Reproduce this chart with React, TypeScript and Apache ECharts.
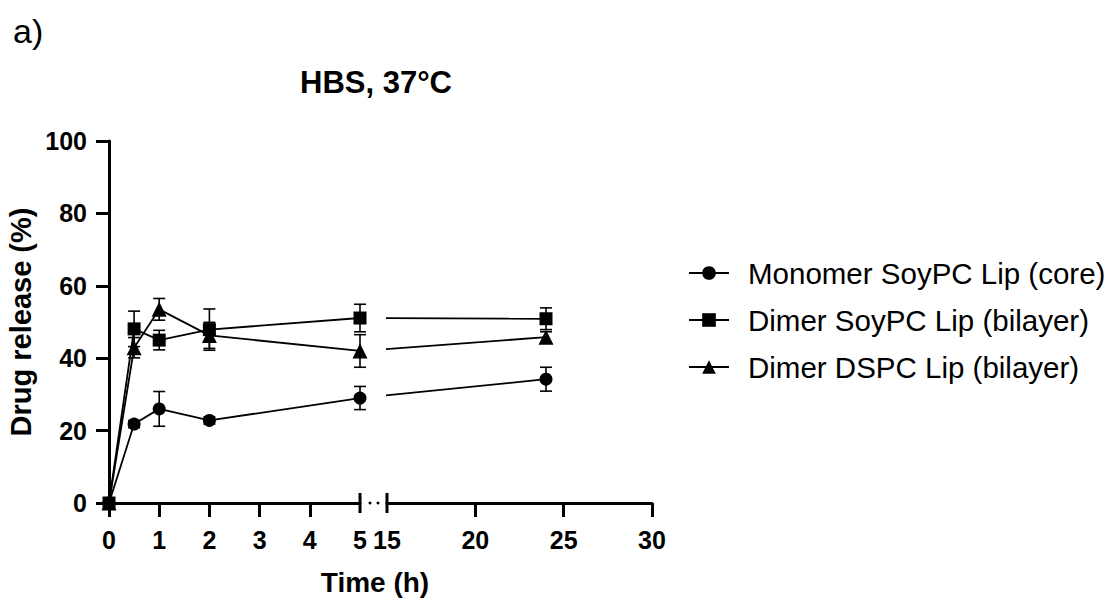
import React, { useEffect, useRef } from "react";
import * as echarts from "echarts";

const FONT = '"Liberation Sans", Arial, Helvetica, sans-serif';

const seriesNames = [
  "Monomer SoyPC Lip (core)",
  "Dimer SoyPC Lip (bilayer)",
  "Dimer DSPC Lip (bilayer)",
];
const seriesSymbols = ["circle", "rect", "triangle"];
const seriesSymbolSizes = [13, 13, 15];

// time points (h)
const earlyTimes = [0, 0.5, 1, 2, 5];
const lateTime = 24;

// Monomer SoyPC Lip (core)
const monomerEarly = [0, 21.8, 26.0, 22.8, 29.0];
const monomerEarlyErr = [0, 1.0, 4.8, 1.0, 3.2];
const monomerLate = 34.2;
const monomerLateErr = 3.3;

// Dimer SoyPC Lip (bilayer)
const dimerSoyEarly = [0, 48.1, 45.0, 47.9, 51.1];
const dimerSoyEarlyErr = [0, 4.9, 2.7, 5.7, 3.8];
const dimerSoyLate = 50.9;
const dimerSoyLateErr = 3.0;

// Dimer DSPC Lip (bilayer)
const dimerDspcEarly = [0, 42.9, 53.5, 46.3, 42.0];
const dimerDspcEarlyErr = [0, 2.8, 3.0, 3.6, 4.5];
const dimerDspcLate = 45.8;
const dimerDspcLateErr = 1.5;

const earlyValues = [monomerEarly, dimerSoyEarly, dimerDspcEarly];
const earlyErrors = [monomerEarlyErr, dimerSoyEarlyErr, dimerDspcEarlyErr];
const lateValues = [monomerLate, dimerSoyLate, dimerDspcLate];
const lateErrors = [monomerLateErr, dimerSoyLateErr, dimerDspcLateErr];

// axis ticks
const leftTicks = [0, 1, 2, 3, 4, 5];
const leftTickMarks = [0, 1, 2, 3, 4];
const rightTicks = [15, 20, 25, 30];
const rightTickMarks = [20, 25, 30];
const yMin = 0;
const yMax = 100;
const yStep = 20;

// layout (pixels)
const G1_LEFT = 109;
const G1_RIGHT = 360;
const G2_LEFT = 387;
const G2_RIGHT = 652;
const G_TOP = 141;
const G_BOTTOM = 503;

const AXIS_W = 3;

export default function App() {
  const ref = useRef<HTMLDivElement>(null);

  useEffect(() => {
    if (!ref.current) return;
    const chart = echarts.init(ref.current, undefined, { renderer: "svg" });

    const leftMin = leftTicks[0];
    const leftMax = leftTicks[leftTicks.length - 1];
    const rightMin = rightTicks[0];
    const rightMax = rightTicks[rightTicks.length - 1];
    const g1W = G1_RIGHT - G1_LEFT;
    const g2W = G2_RIGHT - G2_LEFT;
    const gH = G_BOTTOM - G_TOP;
    // position of the last early point expressed in the right panel's scale,
    // so the connecting segment is straight in pixel space and clipped at the break
    const lastEarlyInRight =
      rightMin - (G2_LEFT - G1_RIGHT) * ((rightMax - rightMin) / g2W);

    const errRender = (params: any, api: any) => {
      const x = api.value(0);
      const m = api.value(1);
      const e = api.value(2);
      const top = api.coord([x, m + e]);
      const bot = api.coord([x, m - e]);
      const cw = 6;
      const st = { stroke: "#000", lineWidth: 1.6 };
      return {
        type: "group",
        children: [
          { type: "line", shape: { x1: top[0], y1: top[1], x2: bot[0], y2: bot[1] }, style: st },
          { type: "line", shape: { x1: top[0] - cw, y1: top[1], x2: top[0] + cw, y2: top[1] }, style: st },
          { type: "line", shape: { x1: bot[0] - cw, y1: bot[1], x2: bot[0] + cw, y2: bot[1] }, style: st },
        ],
      };
    };

    const series: any[] = [];
    seriesNames.forEach((name, i) => {
      series.push({
        type: "custom",
        name: name + " err",
        xAxisIndex: 0,
        yAxisIndex: 0,
        renderItem: errRender,
        data: earlyTimes.map((t, k) => [t, earlyValues[i][k], earlyErrors[i][k]]),
        z: 1,
        silent: true,
      });
      series.push({
        type: "custom",
        name: name + " err2",
        xAxisIndex: 1,
        yAxisIndex: 1,
        renderItem: errRender,
        data: [[lateTime, lateValues[i], lateErrors[i]]],
        z: 1,
        silent: true,
      });
      series.push({
        type: "line",
        name,
        xAxisIndex: 0,
        yAxisIndex: 0,
        data: earlyTimes.map((t, k) => [t, earlyValues[i][k]]),
        symbol: seriesSymbols[i],
        symbolSize: seriesSymbolSizes[i],
        showAllSymbol: true,
        clip: false,
        itemStyle: { color: "#000" },
        lineStyle: { color: "#000", width: 1.8 },
        z: 3,
      });
      series.push({
        type: "line",
        name,
        xAxisIndex: 1,
        yAxisIndex: 1,
        data: [
          { value: [lastEarlyInRight, earlyValues[i][earlyValues[i].length - 1]], symbol: "none" },
          { value: [lateTime, lateValues[i]] },
        ],
        symbol: seriesSymbols[i],
        symbolSize: seriesSymbolSizes[i],
        showAllSymbol: true,
        clip: true,
        itemStyle: { color: "#000" },
        lineStyle: { color: "#000", width: 1.8 },
        z: 3,
      });
    });

    const axisLabel = {
      color: "#000",
      fontSize: 25,
      fontWeight: "bold",
      fontFamily: FONT,
    };

    const option: any = {
      animation: false,
      grid: [
        { left: G1_LEFT, top: G_TOP, width: g1W, height: gH, outerBoundsMode: "none", containLabel: false },
        { left: G2_LEFT, top: G_TOP, width: g2W, height: gH, outerBoundsMode: "none", containLabel: false },
      ],
      xAxis: [
        {
          gridIndex: 0,
          type: "value",
          min: leftMin,
          max: leftMax,
          interval: 1,
          axisLine: { show: true, lineStyle: { color: "#000", width: AXIS_W } },
          axisTick: { show: true, length: 14, lineStyle: { color: "#000", width: AXIS_W }, customValues: leftTickMarks },
          axisLabel: { ...axisLabel, margin: 24, customValues: leftTicks },
          splitLine: { show: false },
        },
        {
          gridIndex: 1,
          type: "value",
          min: rightMin,
          max: rightMax,
          interval: 5,
          axisLine: { show: true, lineStyle: { color: "#000", width: AXIS_W } },
          axisTick: { show: true, length: 14, lineStyle: { color: "#000", width: AXIS_W }, customValues: rightTickMarks },
          axisLabel: { ...axisLabel, margin: 24, customValues: rightTicks },
          splitLine: { show: false },
        },
      ],
      yAxis: [
        {
          gridIndex: 0,
          type: "value",
          min: yMin,
          max: yMax,
          interval: yStep,
          name: "Drug release (%)",
          nameLocation: "middle",
          nameGap: 74,
          nameMoveOverlap: false,
          nameTextStyle: { color: "#000", fontSize: 29, fontWeight: "bold", fontFamily: FONT },
          axisLine: { show: true, lineStyle: { color: "#000", width: AXIS_W } },
          axisTick: { show: true, length: 13, lineStyle: { color: "#000", width: AXIS_W } },
          axisLabel: { ...axisLabel, margin: 22 },
          splitLine: { show: false },
        },
        {
          gridIndex: 1,
          type: "value",
          min: yMin,
          max: yMax,
          interval: yStep,
          show: false,
          splitLine: { show: false },
        },
      ],
      legend: {
        orient: "vertical",
        left: 683,
        top: 253,
        itemWidth: 40,
        itemHeight: 17,
        itemGap: 17,
        selectedMode: false,
        data: seriesNames,
        textStyle: { color: "#000", fontSize: 29.5, fontFamily: FONT, padding: [0, 0, 0, 14] },
      },
      graphic: [
        {
          type: "text",
          x: 13,
          y: 31,
          style: { text: "a)", fill: "#000", fontSize: 34, fontFamily: FONT, align: "left", verticalAlign: "middle" },
        },
        {
          type: "text",
          x: 376,
          y: 82,
          style: { text: "HBS, 37°C", fill: "#000", fontSize: 31, fontWeight: "bold", fontFamily: FONT, align: "center", verticalAlign: "middle" },
        },
        {
          type: "text",
          x: 375,
          y: 582,
          style: { text: "Time (h)", fill: "#000", fontSize: 28, fontWeight: "bold", fontFamily: FONT, align: "center", verticalAlign: "middle" },
        },
        // axis break marks
        {
          type: "line",
          shape: { x1: G1_RIGHT, y1: G_BOTTOM - 10, x2: G1_RIGHT, y2: G_BOTTOM + 10 },
          style: { stroke: "#000", lineWidth: AXIS_W },
        },
        {
          type: "line",
          shape: { x1: G2_LEFT, y1: G_BOTTOM - 10, x2: G2_LEFT, y2: G_BOTTOM + 10 },
          style: { stroke: "#000", lineWidth: AXIS_W },
        },
        {
          type: "circle",
          shape: { cx: G1_RIGHT + (G2_LEFT - G1_RIGHT) / 3 + 1, cy: G_BOTTOM, r: 1.5 },
          style: { fill: "#000" },
        },
        {
          type: "circle",
          shape: { cx: G1_RIGHT + (2 * (G2_LEFT - G1_RIGHT)) / 3, cy: G_BOTTOM, r: 1.5 },
          style: { fill: "#000" },
        },
      ],
      series,
    };

    chart.setOption(option);
    return () => chart.dispose();
  }, []);

  return (
    <div
      ref={ref}
      style={{ position: "fixed", left: 0, top: 0, width: 1115, height: 605, background: "#fff" }}
    />
  );
}
